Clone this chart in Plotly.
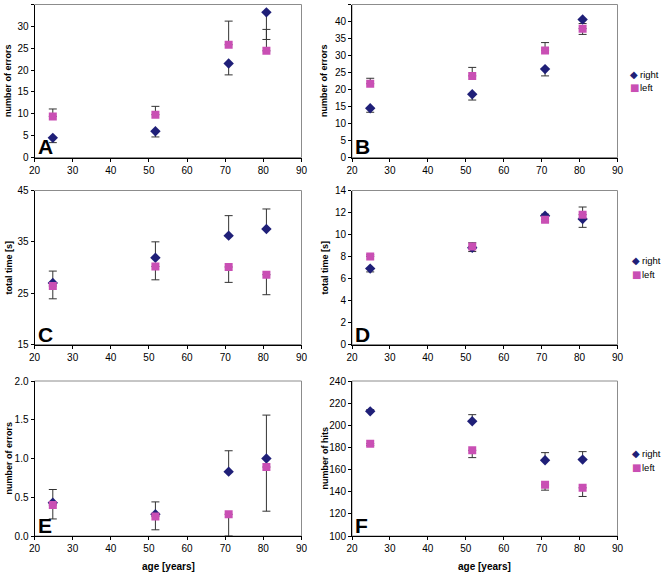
import plotly.graph_objects as go

# ---------------- data ----------------
age = [24.8, 51.7, 70.9, 80.8]

A_right = [4.5, 6.0, 21.5, 33.2]
A_right_plus = [0, 0, 0, 0]
A_right_minus = [1.1, 1.3, 2.6, 6.2]
A_left = [9.4, 9.8, 25.8, 24.4]
A_left_plus = [1.7, 1.9, 5.4, 4.9]
A_left_minus = [0, 0, 0, 0]

B_right = [14.5, 18.6, 26.0, 40.6]
B_right_plus = [0, 0, 0, 0]
B_right_minus = [1.2, 1.7, 2.0, 1.2]
B_left = [21.7, 24.0, 31.5, 37.9]
B_left_plus = [1.6, 2.5, 2.3, 0]
B_left_minus = [0, 0, 0, 1.7]

C_right = [27.0, 31.9, 36.2, 37.5]
C_right_plus = [2.3, 3.1, 3.9, 3.9]
C_right_minus = [0, 0, 0, 0]
C_left = [26.4, 30.2, 30.1, 28.6]
C_left_plus = [0, 0, 0, 0]
C_left_minus = [2.5, 2.6, 3.0, 3.9]

D_right = [6.9, 8.8, 11.7, 11.4]
D_right_plus = [0, 0, 0.15, 0]
D_right_minus = [0.3, 0.35, 0, 0.75]
D_left = [8.0, 8.9, 11.35, 11.8]
D_left_plus = [0.15, 0.35, 0, 0.7]
D_left_minus = [0, 0, 0.2, 0]

E_right = [0.43, 0.28, 0.83, 1.0]
E_right_plus = [0.17, 0.16, 0.27, 0.56]
E_right_minus = [0, 0, 0, 0]
E_left = [0.40, 0.25, 0.28, 0.89]
E_left_plus = [0, 0, 0, 0]
E_left_minus = [0.18, 0.17, 0.28, 0.57]

F_right = [212.6, 203.6, 168.4, 169.0]
F_right_plus = [1.5, 6.0, 6.9, 7.2]
F_right_minus = [0, 0, 0, 0]
F_left = [183.4, 177.4, 146.2, 143.5]
F_left_plus = [0, 0, 0, 0]
F_left_minus = [1.8, 6.6, 4.8, 7.8]

x_ticks = [20, 30, 40, 50, 60, 70, 80, 90]
series_names = ["right", "left"]

panels = [
    # letter, right, r+, r-, left, l+, l-, yrange, dtick, ytitle, ytickformat
    ("A", A_right, A_right_plus, A_right_minus, A_left, A_left_plus, A_left_minus, [0, 35], 5, "number of errors", None),
    ("B", B_right, B_right_plus, B_right_minus, B_left, B_left_plus, B_left_minus, [0, 45], 5, "number of errors", None),
    ("C", C_right, C_right_plus, C_right_minus, C_left, C_left_plus, C_left_minus, [15, 45], 10, "total time [s]", None),
    ("D", D_right, D_right_plus, D_right_minus, D_left, D_left_plus, D_left_minus, [0, 14], 2, "total time [s]", None),
    ("E", E_right, E_right_plus, E_right_minus, E_left, E_left_plus, E_left_minus, [0, 2], 0.5, "number of errors", ".1f"),
    ("F", F_right, F_right_plus, F_right_minus, F_left, F_left_plus, F_left_minus, [100, 240], 20, "number of hits", None),
]

# ---------------- layout geometry (pixels) ----------------
W, H = 661, 573
col_x = [(34.5, 301.5), (352.0, 617.5)]
row_y = [(4.5, 157.5), (190.5, 344.5), (381.0, 536.0)]
ytitle_x = [8, 324]
legend_pos = [None, (634, 74, 88), None, (636, 260, 274), None, (636, 453, 467)]

NAVY = "#1f1f78"
PINK = "#c94fb4"
ERR = "#333333"
FONT = "Liberation Sans, Arial, sans-serif"

fig = go.Figure()
layout = dict(
    width=W, height=H,
    margin=dict(l=0, r=0, t=0, b=0, autoexpand=False),
    paper_bgcolor="white", plot_bgcolor="white",
    font=dict(family=FONT, size=10, color="black"),
    showlegend=False,
)
annotations = []
shapes = []

for i, (letter, r, rp, rm, l, lp, lm, yr, dt, ytitle, tfmt) in enumerate(panels):
    row, col = divmod(i, 2)
    k = i + 1
    xa = "x" if k == 1 else f"x{k}"
    ya = "y" if k == 1 else f"y{k}"
    x0, x1 = col_x[col]
    yt, yb = row_y[row]

    fig.add_trace(go.Scatter(
        x=age, y=r, mode="markers", name=series_names[0],
        xaxis=xa, yaxis=ya,
        marker=dict(symbol="diamond", size=8, color=NAVY),
        error_y=dict(type="data", symmetric=False, array=rp, arrayminus=rm,
                     color=ERR, thickness=1, width=4),
    ))
    fig.add_trace(go.Scatter(
        x=age, y=l, mode="markers", name=series_names[1],
        xaxis=xa, yaxis=ya,
        marker=dict(symbol="square", size=8, color=PINK),
        error_y=dict(type="data", symmetric=False, array=lp, arrayminus=lm,
                     color=ERR, thickness=1, width=4),
    ))

    xkey = "xaxis" if k == 1 else f"xaxis{k}"
    ykey = "yaxis" if k == 1 else f"yaxis{k}"
    layout[xkey] = dict(
        domain=[x0 / W, x1 / W], anchor=ya, range=[20, 90],
        tickvals=x_ticks, showgrid=False, zeroline=False,
        showline=True, linecolor="black", linewidth=1,
        ticks="outside", ticklen=3, tickcolor="black",
        tickfont=dict(size=10, family=FONT),
    )
    layout[ykey] = dict(
        domain=[1 - yb / H, 1 - yt / H], anchor=xa, range=yr,
        dtick=dt, tick0=yr[0], showgrid=False, zeroline=False,
        showline=True, linecolor="black", linewidth=1,
        ticks="outside", ticklen=3, tickcolor="black",
        tickfont=dict(size=10, family=FONT),
        tickformat=tfmt,
    )
    # gray plot-area border (top/right)
    shapes.append(dict(type="rect", xref=f"{xa} domain", yref=f"{ya} domain",
                       x0=0, x1=1, y0=0, y1=1, line=dict(color="#8c8c8c", width=1),
                       layer="below"))
    # panel letter
    annotations.append(dict(text=f"<b>{letter}</b>", xref=f"{xa} domain", yref=f"{ya} domain",
                            x=0, y=0, xanchor="left", yanchor="bottom", showarrow=False,
                            xshift=1, yshift=-3, font=dict(size=21, family=FONT, color="black")))
    # y-axis title
    annotations.append(dict(text=f"<b>{ytitle}</b>", xref="paper", yref="paper",
                            x=ytitle_x[col] / W, y=1 - (yt + yb) / 2 / H,
                            xanchor="center", yanchor="middle", textangle=-90, showarrow=False,
                            font=dict(size=9, family=FONT, color="black")))
    if row == 2:
        annotations.append(dict(text="<b>age [years]</b>", xref="paper", yref="paper",
                                x=(x0 + x1) / 2 / W, y=1 - 566 / H,
                                xanchor="center", yanchor="middle", showarrow=False,
                                font=dict(size=10, family=FONT, color="black")))
    # legend (drawn as text symbols)
    if legend_pos[i] is not None:
        lx, ly1, ly2 = legend_pos[i]
        for name, sym, colr, ly in [(series_names[0], "◆", NAVY, ly1), (series_names[1], "■", PINK, ly2)]:
            annotations.append(dict(text=sym, xref="paper", yref="paper",
                                    x=lx / W, y=1 - ly / H, xanchor="center", yanchor="middle",
                                    showarrow=False, font=dict(size=10, family="DejaVu Sans", color=colr)))
            annotations.append(dict(text=name, xref="paper", yref="paper",
                                    x=(lx + 4) / W, y=1 - ly / H, xanchor="left", yanchor="middle",
                                    showarrow=False, font=dict(size=9.5, family=FONT, color="black")))

layout["annotations"] = annotations
layout["shapes"] = shapes
fig.update_layout(**layout)
fig.write_html(
    "out.html",
    config={"displayModeBar": False},
    post_script="document.body.style.margin='0px';document.body.style.padding='0px';"
                "document.documentElement.style.overflow='hidden';",
)
